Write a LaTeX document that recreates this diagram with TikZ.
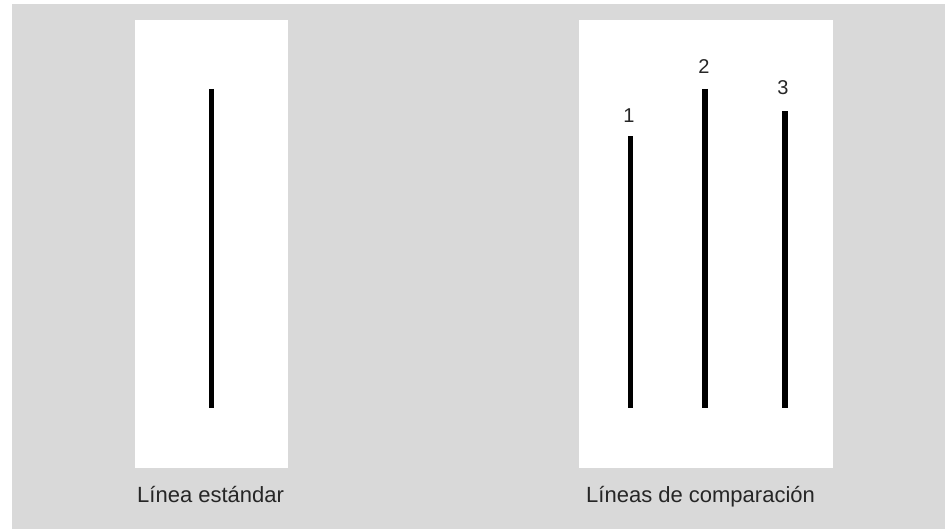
\documentclass[tikz,border=0pt]{standalone}
\usepackage{fontspec}
\setmainfont{Liberation Sans}
\usetikzlibrary{positioning}
\definecolor{PanelGray}{HTML}{D9D9D9}
\colorlet{LabelText}{black!85}

\begin{document}
\begin{tikzpicture}[x=1pt, y=-1pt,
  panel/.style={fill=white, draw=none, inner sep=0pt, anchor=north west},
  bar/.style={line width=5.5pt, black},
  caption/.style={font=\fontsize{22}{26}\selectfont, text=LabelText, anchor=base west, inner sep=0pt},
  num/.style={font=\fontsize{20}{24}\selectfont, text=LabelText, inner sep=0pt}]

\useasboundingbox (0,0) rectangle (945,529);

% gray background
\fill[PanelGray] (12,4) rectangle (945,529);

% white panels
\node[panel, minimum width=153pt, minimum height=448pt] (standard) at (135,20) {};
\node[panel, minimum width=254pt, minimum height=448pt] (compare) at (579,20) {};

\def \yBottom {408}

% standard line
\coordinate (sTop) at (211.5,89);
\coordinate (sBot) at (211.5,\yBottom);
\draw[bar] (sTop) -- (sBot);

% comparison lines
\coordinate (oneTop) at (630.5,136.5);
\coordinate (oneBot) at (630.5,\yBottom);
\coordinate (twoTop) at (705,89);
\coordinate (twoBot) at (705,\yBottom);
\coordinate (threeTop) at (785,111.5);
\coordinate (threeBot) at (785,\yBottom);
\draw[bar] (oneTop) -- (oneBot);
\draw[bar] (twoTop) -- (twoBot);
\draw[bar] (threeTop) -- (threeBot);

% numbers
\node[num] (one) at (629,116) {1};
\node[num] (two) at (704,66.5) {2};
\node[num] (three) at (783,87.5) {3};

% captions
\node[caption] (standardText) at (137,502) {Línea estándar};
\node[caption] (compareText) at (586,502) {Líneas de comparación};

\end{tikzpicture}
\end{document}
